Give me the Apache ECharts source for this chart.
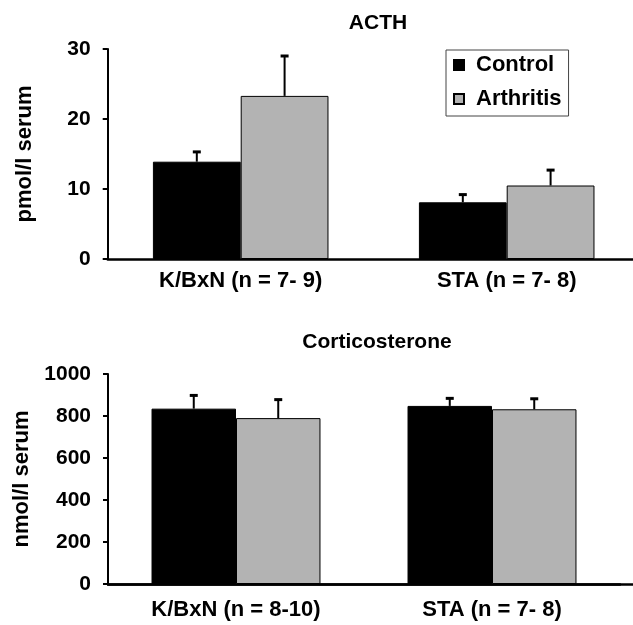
<!DOCTYPE html>
<html>
<head>
<meta charset="utf-8">
<script src="https://cdn.jsdelivr.net/npm/echarts@6/dist/echarts.min.js"></script>
<style>
html,body{margin:0;padding:0;background:#fff;}
#chart{width:633px;height:625px;}
</style>
</head>
<body>
<div id="chart"></div>
<script>
// ---- data ----
const acthCategories = ['K/BxN (n = 7- 9)', 'STA (n = 7- 8)'];
const acthControl = [13.9, 8.1];
const acthControlErr = [1.4, 1.1];
const acthArthritis = [23.3, 10.5];
const acthArthritisErr = [5.7, 2.2];

const cortCategories = ['K/BxN (n = 8-10)', 'STA (n = 7- 8)'];
const cortControl = [835, 848];
const cortControlErr = [63, 36];
const cortArthritis = [790, 832];
const cortArthritisErr = [88, 50];

const acthTicks = [0, 10, 20, 30];
const cortTicks = [0, 200, 400, 600, 800, 1000];

// ---- chart ----
const FONT = 'Liberation Sans, Arial, sans-serif';
const BLACK = '#000000';
const GRAY = '#b3b3b3';

function errData(means, errs) {
  return means.map((m, i) => [i, m, m + errs[i]]);
}
function errSeries(name, means, errs, side, gridIdx) {
  return {
    type: 'custom',
    name: name + ' SEM',
    xAxisIndex: gridIdx, yAxisIndex: gridIdx,
    data: errData(means, errs),
    z: 5,
    silent: true,
    renderItem: function (params, api) {
      const band = api.size([1, 0])[0];
      const x = api.coord([api.value(0), 0])[0] + side * 0.165 * band;
      const yBar = api.coord([api.value(0), api.value(1)])[1];
      const yTop = api.coord([api.value(0), api.value(2)])[1];
      return {
        type: 'group',
        children: [
          { type: 'line', shape: { x1: x, y1: yBar, x2: x, y2: yTop }, style: { stroke: BLACK, lineWidth: 2 } },
          { type: 'line', shape: { x1: x - 4, y1: yTop, x2: x + 4, y2: yTop }, style: { stroke: BLACK, lineWidth: 3 } }
        ]
      };
    }
  };
}

function yAxisCfg(gridIdx, name, ticks) {
  return {
    type: 'value', gridIndex: gridIdx,
    min: ticks[0], max: ticks[ticks.length - 1], interval: ticks[1] - ticks[0],
    name: name, nameLocation: 'middle', nameRotate: 90, nameGap: 72,
    nameTextStyle: { fontFamily: FONT, fontSize: 22, fontWeight: 'bold', color: BLACK },
    axisLine: { show: true, lineStyle: { color: BLACK, width: 2 } },
    axisTick: { show: true, inside: false, length: 5, lineStyle: { color: BLACK, width: 2 } },
    axisLabel: { margin: 17, fontFamily: FONT, fontSize: 21, fontWeight: 'bold', color: BLACK,
      formatter: function (v) { return String(v); } },
    splitLine: { show: false }
  };
}
function xAxisCfg(gridIdx, cats, margin) {
  return {
    type: 'category', gridIndex: gridIdx, data: cats,
    axisLine: { show: true, lineStyle: { color: BLACK, width: 2.5 } },
    axisTick: { show: false },
    axisLabel: { margin: margin, fontFamily: FONT, fontSize: 22, fontWeight: 'bold', color: BLACK, interval: 0 }
  };
}
function barSeries(name, vals, color, gridIdx) {
  return {
    type: 'bar', name: name, xAxisIndex: gridIdx, yAxisIndex: gridIdx,
    data: vals, barWidth: '33%', barGap: '0%',
    itemStyle: { color: color, borderColor: BLACK, borderWidth: 1 },
    emphasis: { disabled: true }
  };
}

const option = {
  backgroundColor: '#ffffff',
  animation: false,
  title: [
    { text: 'ACTH', left: 373, top: 8, textAlign: 'center',
      textStyle: { fontFamily: FONT, fontSize: 21, fontWeight: 'bold', color: BLACK } },
    { text: 'Corticosterone', left: 372, top: 327, textAlign: 'center',
      textStyle: { fontFamily: FONT, fontSize: 21, fontWeight: 'bold', color: BLACK } }
  ],
  legend: {
    data: ['Control', 'Arthritis'],
    orient: 'vertical', left: 446, top: 50,
    padding: [4, 7, 6, 7],
    itemWidth: 10, itemHeight: 10, itemGap: 12,
    icon: 'rect',
    borderColor: '#444', borderWidth: 1,
    selectedMode: false,
    textStyle: { fontFamily: FONT, fontSize: 22, fontWeight: 'bold', color: BLACK, padding: [0, 0, 0, 7] }
  },
  grid: [
    { left: 107.7, top: 49, width: 532, height: 210, outerBoundsMode: 'none', containLabel: false },
    { left: 108, top: 374, width: 512, height: 210, outerBoundsMode: 'none', containLabel: false },
    { left: 108, top: 374, right: 0, height: 210, outerBoundsMode: 'none', containLabel: false }
  ],
  xAxis: [
    xAxisCfg(0, acthCategories, 11),
    xAxisCfg(1, cortCategories, 15),
    { type: 'category', gridIndex: 2, data: ['', ''],
      axisLine: { show: true, lineStyle: { color: BLACK, width: 2.5 } },
      axisTick: { show: false }, axisLabel: { show: false } }
  ],
  yAxis: [
    yAxisCfg(0, 'pmol/l serum', acthTicks),
    yAxisCfg(1, 'nmol/l serum', cortTicks),
    { type: 'value', gridIndex: 2, show: false, min: 0, max: 1 }
  ],
  series: [
    barSeries('Control', acthControl, BLACK, 0),
    barSeries('Arthritis', acthArthritis, GRAY, 0),
    errSeries('Control', acthControl, acthControlErr, -1, 0),
    errSeries('Arthritis', acthArthritis, acthArthritisErr, 1, 0),
    barSeries('Control', cortControl, BLACK, 1),
    barSeries('Arthritis', cortArthritis, GRAY, 1),
    errSeries('Control', cortControl, cortControlErr, -1, 1),
    errSeries('Arthritis', cortArthritis, cortArthritisErr, 1, 1)
  ]
};

const chart = echarts.init(document.getElementById('chart'), null, { renderer: 'canvas' });
chart.setOption(option);
</script>
</body>
</html>
